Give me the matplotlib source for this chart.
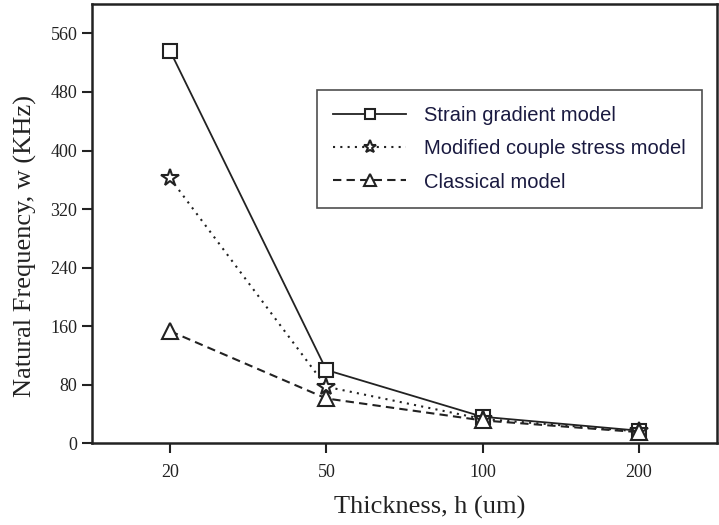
import matplotlib.pyplot as plt

# thickness categories and natural frequency for each model (KHz)
thickness = ["20", "50", "100", "200"]
strain_gradient = [536, 100, 36, 17]
modified_couple = [362, 77, 33, 16]
classical = [153, 61, 31, 15]

plt.rcParams["font.family"] = ["Liberation Serif", "DejaVu Serif"]

fig = plt.figure(figsize=(7.19, 5.25), dpi=100)
ax = fig.add_axes([0.128, 0.156, 0.869, 0.836])

x = range(1, len(thickness) + 1)
ax.plot(x, strain_gradient, color="#222222", lw=1.3, ls="-", marker="s", ms=10,
        mfc="white", mec="#222222", mew=1.5, label="Strain gradient model")
ax.plot(x, modified_couple, color="#222222", lw=1.5, ls=(0, (1, 2.5)), marker="*", ms=13,
        mfc="white", mec="#222222", mew=1.5, label="Modified couple stress model")
ax.plot(x, classical, color="#222222", lw=1.5, ls=(0, (4, 2.5)), marker="^", ms=11,
        mfc="white", mec="#222222", mew=1.5, label="Classical model")

ax.set_xlim(0.5, 4.5)
ax.set_ylim(0, 600)
ax.set_xticks(list(x))
ax.set_xticklabels(thickness)
ax.set_yticks(range(0, 561, 80))
ax.tick_params(axis="both", direction="out", length=7, width=1.5, labelsize=13, colors="#222222")
ax.tick_params(axis="x", pad=8)
for s in ax.spines.values():
    s.set_linewidth(1.8)
    s.set_color("#222222")

ax.set_xlabel("Thickness, h (um)", fontsize=19, color="#222222")
ax.xaxis.set_label_coords(0.54, -0.12)
ax.set_ylabel("Natural Frequency, w (KHz)", fontsize=19, color="#222222")
ax.yaxis.set_label_coords(-0.088, 0.45)

leg = ax.legend(loc="upper right", bbox_to_anchor=(0.976, 0.804), frameon=True, fancybox=False,
                edgecolor="#222222", prop={"family": "Liberation Sans", "size": 14.5},
                handlelength=3.6, borderpad=0.8, labelspacing=0.7, handletextpad=0.9,
                borderaxespad=0, markerscale=0.75)
leg.get_frame().set_linewidth(1.2)
for t in leg.get_texts():
    t.set_color("#1a1a40")

fig.savefig("out.png", dpi=100)
